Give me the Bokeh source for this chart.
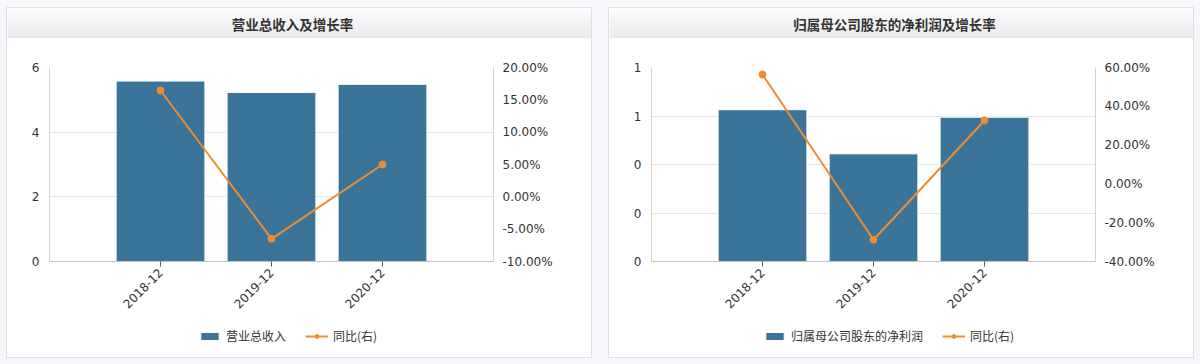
from math import pi
from bokeh.plotting import figure
from bokeh.models import (FactorRange, Range1d, LinearAxis, FixedTicker, PrintfTickFormatter,
                          Legend, LegendItem, Spacer)
from bokeh.core.properties import value
from bokeh.layouts import row, column
from bokeh.embed import file_html
from bokeh.resources import INLINE

# ---------------- data ----------------
periods = ["2018-12", "2019-12", "2020-12"]
revenue = [5.58, 5.23, 5.48]
revenue_yoy = [16.44, -6.49, 5.00]
net_profit = [0.626, 0.444, 0.595]
net_profit_yoy = [56.4, -28.8, 32.7]

titles = ["营业总收入及增长率", "归属母公司股东的净利润及增长率"]
bar_labels = ["营业总收入", "归属母公司股东的净利润"]
line_label = "同比(右)"
left_ticks_1 = [0, 2, 4, 6]
right_ticks_1 = [-10, -5, 0, 5, 10, 15, 20]
left_ticks_2 = [0, 0.2, 0.4, 0.6, 0.8]
right_ticks_2 = [-40, -20, 0, 20, 40, 60]

BAR = "#3a7498"
ORANGE = "#ef8c32"
TXT = "#333333"
PW = 584          # inner panel width
TH = 30           # title bar height
MH = 285          # chart height
LH = 34           # legend strip height
TICK_FONT = "DejaVu Sans"
CJK = "Noto Sans CJK SC"
BORDER = "#dcdfe3"


def hexmix(c1, c2, t):
    a = [int(c1[i:i + 2], 16) for i in (1, 3, 5)]
    b = [int(c2[i:i + 2], 16) for i in (1, 3, 5)]
    return "#%02x%02x%02x" % tuple(round(a[k] + (b[k] - a[k]) * t) for k in range(3))


def bare(h):
    f = figure(width=PW, height=h, x_range=Range1d(0, PW), y_range=Range1d(0, h),
               output_backend="svg", toolbar_location=None,
               min_border=0, x_axis_location=None, y_axis_location=None,
               outline_line_color=None, background_fill_color="white",
               border_fill_color="white")
    f.frame_align = False
    f.grid.visible = False
    return f


def title_bar(title):
    t = bare(TH)
    n = TH
    tops = [TH - i for i in range(n)]
    bottoms = [TH - i - 1 for i in range(n)]
    cols = [("#d6d8db" if i == n - 1 else hexmix("#fbfbfc", "#e5e6e8", i / (n - 2)))
            for i in range(n)]
    t.quad(left=0, right=PW, top=tops, bottom=bottoms, fill_color=cols, line_color=None)
    t.text(x=[285], y=[TH - 15], text=[title], text_align="center",
           text_baseline="middle", text_font=value(CJK), text_font_style="bold",
           text_font_size="13.5px", text_color=TXT)
    return t


def legend_strip(bar_label, values, yoy, legend_x):
    f = bare(LH)
    xs = list(range(len(periods)))
    # hidden copies of the series: they only supply the legend keys
    kb = f.vbar(x=xs, top=values, bottom=0, width=0.8, fill_color=BAR,
                line_color="white", line_width=1, visible=False)
    kl = f.line(x=xs, y=yoy, line_color=ORANGE, line_width=2, visible=False)
    ks = f.scatter(x=xs, y=yoy, size=7, fill_color=ORANGE, line_color=ORANGE,
                   visible=False)
    legend = Legend(items=[LegendItem(label=bar_label, renderers=[kb]),
                           LegendItem(label=line_label, renderers=[kl, ks])],
                    location=(legend_x, 13), orientation="horizontal",
                    glyph_width=23, glyph_height=10, label_standoff=5, spacing=19,
                    padding=0, margin=0, border_line_color=None,
                    background_fill_alpha=0, inactive_fill_alpha=0,
                    label_text_font=CJK, label_text_font_size="12px",
                    label_text_color=TXT)
    f.add_layout(legend)
    return f


def chart(values, yoy, lticks, rticks):
    p = figure(width=PW, height=MH, x_range=FactorRange(*periods, range_padding=1 / 3),
               y_range=Range1d(lticks[0], lticks[-1]),
               output_backend="svg", toolbar_location=None,
               min_border_left=42, min_border_right=PW - 42 - 444,
               min_border_top=29, min_border_bottom=62,
               background_fill_color="white", border_fill_color="white",
               outline_line_color=None)
    p.frame_align = False
    p.extra_y_ranges = {"pct": Range1d(rticks[0], rticks[-1])}

    p.xgrid.grid_line_color = None
    p.ygrid.grid_line_color = "#e4e4e4"
    p.ygrid.ticker = FixedTicker(ticks=lticks)

    ya = p.yaxis[0]
    ya.ticker = FixedTicker(ticks=lticks)
    ya.formatter = PrintfTickFormatter(format="%.0f")
    ya.major_tick_line_color = None
    ya.minor_tick_line_color = None
    ya.axis_line_color = "#d4d4d4"
    ya.major_label_text_font = TICK_FONT
    ya.major_label_text_font_size = "12px"
    ya.major_label_text_color = TXT
    ya.major_label_standoff = 4

    ra = LinearAxis(y_range_name="pct", ticker=FixedTicker(ticks=rticks),
                    formatter=PrintfTickFormatter(format="%.2f%%"))
    ra.major_tick_line_color = None
    ra.minor_tick_line_color = None
    ra.axis_line_color = "#d4d4d4"
    ra.major_label_text_font = TICK_FONT
    ra.major_label_text_font_size = "12px"
    ra.major_label_text_color = TXT
    ra.major_label_standoff = 3
    p.add_layout(ra, "right")

    xa = p.xaxis[0]
    xa.major_label_orientation = pi / 4
    xa.axis_line_color = "#c4c4c4"
    xa.major_tick_line_color = "#555555"
    xa.major_tick_out = 5
    xa.major_tick_in = 0
    xa.minor_tick_line_color = None
    xa.major_label_text_font = TICK_FONT
    xa.major_label_text_font_size = "12px"
    xa.major_label_text_color = TXT
    xa.major_label_standoff = 4

    p.vbar(x=periods, top=values, bottom=0, width=0.8,
           fill_color=BAR, line_color="white", line_width=1)
    p.line(x=periods, y=yoy, y_range_name="pct", line_color=ORANGE, line_width=2)
    p.scatter(x=periods, y=yoy, y_range_name="pct", size=7,
              fill_color=ORANGE, line_color=ORANGE)
    return p


def panel(title, bar_label, values, yoy, lticks, rticks, legend_x):
    return column(title_bar(title), chart(values, yoy, lticks, rticks),
                  legend_strip(bar_label, values, yoy, legend_x), spacing=0,
                  styles={"border": "1px solid " + BORDER, "background-color": "white"})


p1 = panel(titles[0], bar_labels[0], revenue, revenue_yoy,
           left_ticks_1, right_ticks_1, 191)
p2 = panel(titles[1], bar_labels[1], net_profit, net_profit_yoy,
           left_ticks_2, right_ticks_2, 154)

page = column(Spacer(height=7),
              row(Spacer(width=6), p1, Spacer(width=16), p2, Spacer(width=6), spacing=0),
              Spacer(height=6),
              spacing=0, styles={"background-color": "#f5f7fa"})

open("out.html", "w").write(file_html(page, INLINE))
